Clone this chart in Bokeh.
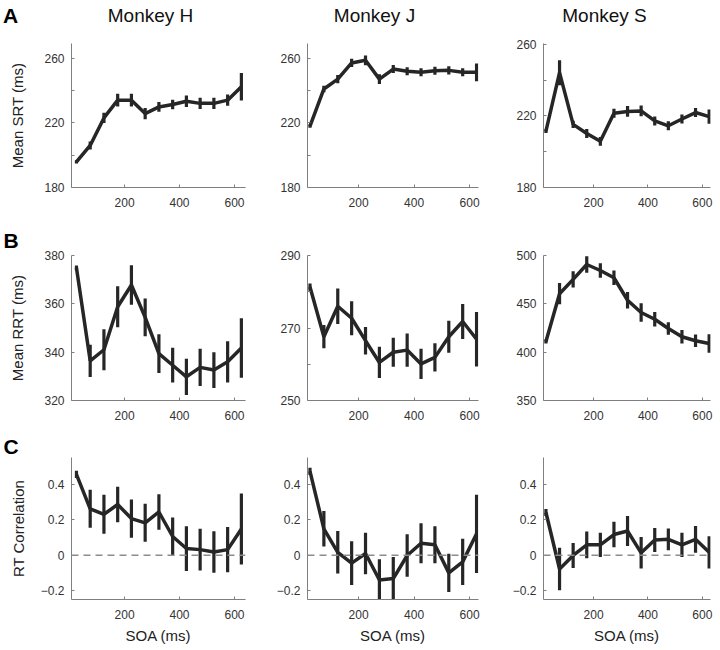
from bokeh.plotting import figure
from bokeh.layouts import gridplot, column
from bokeh.models import FixedTicker, Span, Range1d, Title
from bokeh.core.properties import value
from bokeh.embed import file_html
from bokeh.resources import INLINE

# ---------------- data ----------------
soa = [25, 75, 125, 175, 225, 275, 325, 375, 425, 475, 525, 575, 625]

monkeys = ["Monkey H", "Monkey J", "Monkey S"]

# Row A: mean saccade RT (ms)
srt_h = [195.8, 206.0, 223.0, 234.0, 234.0, 225.7, 229.8, 231.3, 233.3, 232.0, 232.0, 234.0, 242.3]
srt_h_err = [1.0, 2.5, 3.2, 4.0, 4.0, 3.5, 3.0, 3.0, 3.5, 3.5, 3.5, 3.5, 8.5]
srt_j = [218.0, 240.9, 247.0, 257.0, 258.6, 247.0, 253.2, 251.8, 251.2, 252.2, 252.4, 251.2, 251.2]
srt_j_err = [1.0, 2.0, 2.5, 2.5, 3.0, 3.0, 2.5, 2.5, 2.5, 2.5, 2.5, 2.5, 5.5]
srt_s = [211.5, 244.2, 215.3, 210.2, 205.8, 221.5, 222.5, 222.8, 217.2, 214.5, 218.3, 221.9, 219.6]
srt_s_err = [1.0, 7.0, 2.0, 2.5, 2.5, 2.5, 3.0, 3.0, 2.5, 2.5, 2.5, 2.5, 4.0]

# Row B: mean reach RT (ms)
rrt_h = [374.9, 336.4, 341.0, 358.8, 367.8, 354.4, 339.4, 334.6, 329.8, 333.7, 332.6, 336.0, 341.7]
rrt_h_err = [1.0, 6.7, 8.5, 8.5, 8.2, 7.8, 8.0, 7.2, 7.5, 7.7, 7.4, 8.5, 12.3]
rrt_j = [281.3, 267.6, 276.0, 272.7, 266.5, 260.5, 263.3, 263.9, 260.1, 261.9, 267.6, 271.8, 266.9]
rrt_j_err = [1.0, 3.2, 4.9, 4.7, 3.8, 4.3, 4.0, 4.6, 4.2, 3.9, 4.4, 4.8, 7.5]
rrt_s = [411.0, 460.5, 475.3, 490.7, 484.5, 477.0, 453.7, 441.0, 434.0, 424.5, 416.0, 411.8, 409.0]
rrt_s_err = [2.0, 11.0, 8.5, 8.5, 7.5, 7.5, 8.5, 9.5, 7.5, 6.5, 7.0, 6.5, 9.5]

# Row C: RT correlation
cor_h = [0.455, 0.261, 0.230, 0.285, 0.206, 0.182, 0.243, 0.105, 0.037, 0.031, 0.018, 0.031, 0.147]
cor_h_err = [0.02, 0.107, 0.11, 0.10, 0.108, 0.107, 0.10, 0.107, 0.126, 0.117, 0.117, 0.128, 0.20]
cor_j = [0.472, 0.148, 0.016, -0.045, 0.009, -0.140, -0.132, -0.002, 0.067, 0.058, -0.100, -0.038, 0.120]
cor_j_err = [0.02, 0.10, 0.12, 0.123, 0.117, 0.117, 0.122, 0.12, 0.113, 0.104, 0.108, 0.13, 0.22]
cor_s = [0.240, -0.078, -0.002, 0.058, 0.058, 0.116, 0.136, 0.013, 0.085, 0.089, 0.058, 0.089, 0.016]
cor_s_err = [0.02, 0.12, 0.071, 0.075, 0.068, 0.072, 0.084, 0.089, 0.068, 0.061, 0.068, 0.075, 0.091]

row_labels = ["Mean SRT (ms)", "Mean RRT (ms)", "RT Correlation"]
panel_letters = ["A", "B", "C"]
x_label = "SOA (ms)"
x_ticks = [200, 400, 600]

means = [[srt_h, srt_j, srt_s], [rrt_h, rrt_j, rrt_s], [cor_h, cor_j, cor_s]]
errs = [[srt_h_err, srt_j_err, srt_s_err], [rrt_h_err, rrt_j_err, rrt_s_err], [cor_h_err, cor_j_err, cor_s_err]]

y_ticks = [
    [([180, 220, 260], [200, 240]), ([180, 220, 260], [200, 240]), ([180, 220, 260], [200, 240])],
    [([320, 340, 360, 380], []), ([250, 270, 290], [260, 280]), ([350, 400, 450, 500], [])],
    [([-0.2, 0, 0.2, 0.4], []), ([-0.2, 0, 0.2, 0.4], []), ([-0.2, 0, 0.2, 0.4], [])],
]
y_ranges = [
    [(180, 269), (180, 269), (180, 260.5)],
    [(320, 380), (250, 290), (350, 500)],
    [(-0.25, 0.55), (-0.25, 0.55), (-0.25, 0.55)],
]
corr_tick_labels = {-0.2: "\u22120.2", 0: "0", 0.2: "0.2", 0.4: "0.4"}

# ---------------- layout / style ----------------
FONT = "Liberation Sans"
INK = "#262626"
AXIS = "#7f7f7f"

col_w = [248, 233, 235]
col_bl = [71, 59, 62]
col_br = [3, 3, 6]
x_ranges = [(7, 640), (16, 632), (16, 630)]
row_h = [184, 202, 222]
row_bt = [5, 32, 33]
row_bb = [35, 24, 45]
ylabel_standoff = [15, 15, 11]
letter_standoff = [0, 8, 0]

TOTAL_W = sum(col_w)
STRIP_H = 38

# top strip with panel letter A and the monkey titles
strip = figure(width=TOTAL_W, height=STRIP_H, output_backend="svg", toolbar_location=None,
               tools="", x_range=Range1d(0, TOTAL_W), y_range=Range1d(STRIP_H, 0),
               x_axis_type=None, y_axis_type=None,
               min_border_left=0, min_border_right=0, min_border_top=0, min_border_bottom=0)
strip.outline_line_color = None
strip.grid.visible = False
strip.text(x=[10], y=[15], text=[panel_letters[0]], text_font=value(FONT),
           text_font_size="21px", text_font_style="bold", text_color="#000000",
           text_align="center", text_baseline="middle")
strip.text(x=[150, 374, 604], y=[15, 15, 15], text=monkeys, text_font=value(FONT),
           text_font_size="19px", text_color="#111111",
           text_align="center", text_baseline="middle")

grid = []
for r in range(3):
    row = []
    for c in range(3):
        p = figure(width=col_w[c], height=row_h[r], output_backend="svg",
                   toolbar_location=None, tools="",
                   x_range=Range1d(*x_ranges[c]), y_range=Range1d(*y_ranges[r][c]),
                   min_border_left=col_bl[c], min_border_right=col_br[c],
                   min_border_top=row_bt[r], min_border_bottom=row_bb[r])
        p.outline_line_color = None
        p.grid.visible = False
        p.background_fill_color = "white"
        p.border_fill_color = "white"

        if r == 2:
            p.add_layout(Span(location=0, dimension="width", line_color="#8c8c8c",
                              line_dash="7 5", line_width=1.5))

        m = means[r][c]
        e = errs[r][c]
        lo = [v - d for v, d in zip(m, e)]
        hi = [v + d for v, d in zip(m, e)]
        p.segment(x0=soa, y0=lo, x1=soa, y1=hi, line_color=INK, line_width=3.2)
        p.line(soa, m, line_color=INK, line_width=3.5)

        for ax in (p.xaxis[0], p.yaxis[0]):
            ax.axis_line_color = AXIS
            ax.axis_line_width = 1
            ax.major_tick_line_color = AXIS
            ax.minor_tick_line_color = AXIS
            ax.major_tick_in = 3
            ax.major_tick_out = 0
            ax.minor_tick_in = 3
            ax.minor_tick_out = 0
            ax.major_label_text_font = FONT
            ax.major_label_text_font_size = "12px"
            ax.major_label_text_color = "#333333"
            ax.axis_label_text_font = FONT
            ax.axis_label_text_font_size = "15px"
            ax.axis_label_text_font_style = "normal"
            ax.axis_label_text_color = "#222222"

        p.xaxis.ticker = FixedTicker(ticks=x_ticks)
        p.xaxis.major_label_standoff = 10
        maj, mnr = y_ticks[r][c]
        p.yaxis.ticker = FixedTicker(ticks=maj, minor_ticks=mnr)
        p.yaxis.major_label_standoff = 7
        if r == 2:
            p.yaxis.major_label_overrides = corr_tick_labels
            p.xaxis.axis_label = x_label
            p.xaxis.axis_label_standoff = 5

        if c == 0:
            p.yaxis.axis_label = row_labels[r]
            p.yaxis.axis_label_standoff = ylabel_standoff[r]
            if r > 0:
                p.add_layout(Title(text=panel_letters[r], align="left", offset=-68,
                                   standoff=letter_standoff[r], text_font=FONT,
                                   text_font_size="21px", text_font_style="bold",
                                   text_color="#000000"), "above")
        row.append(p)
    grid.append(row)

layout = column(strip, gridplot(grid, toolbar_location=None))
open("out.html", "w").write(file_html(layout, INLINE))
